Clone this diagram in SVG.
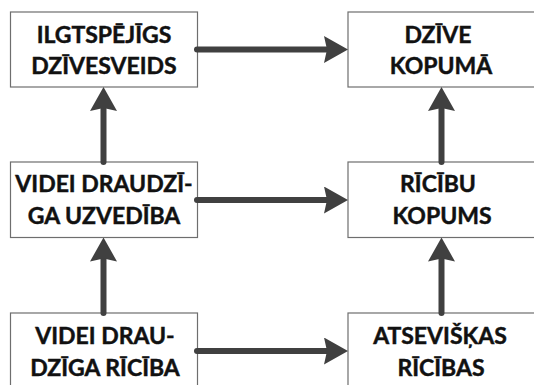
<svg xmlns="http://www.w3.org/2000/svg" width="534" height="385" viewBox="0 0 534 385">
<style>
.box{fill:#fff;stroke:#6e6e6e;stroke-width:1.2}
.t{font-family:Lato,"Noto Sans",sans-serif;font-weight:700;font-size:23px;fill:#111;stroke:#111;stroke-width:0.45;text-anchor:middle}
.c{stroke:#404040;stroke-width:6;stroke-linecap:round;fill:none}
</style>
<defs>
<marker id="ah" markerUnits="userSpaceOnUse" viewBox="0 0 24 27" refX="4" refY="13.5" markerWidth="24" markerHeight="27" orient="auto">
<path d="M0,0 L24,13.5 L0,27 L3,13.5 Z" fill="#404040"/>
</marker>
</defs>
<rect width="534" height="385" fill="#fff"/>
<g id="n1"><rect class="box" x="10.5" y="12" width="187" height="75"/><text class="t" x="104" y="43">ILGTSPĒJĪGS</text><text class="t" x="104" y="74">DZĪVESVEIDS</text></g>
<g id="n2"><rect class="box" x="348" y="12" width="190" height="75"/><text class="t" x="438" y="43">DZĪVE</text><text class="t" x="441" y="74">KOPUMĀ</text></g>
<g id="n3"><rect class="box" x="10.5" y="162" width="187" height="75.5"/><text class="t" x="104" y="192">VIDEI DRAUDZĪ-</text><text class="t" x="104" y="224">GA UZVEDĪBA</text></g>
<g id="n4"><rect class="box" x="348" y="162" width="190" height="75.5"/><text class="t" x="438" y="192">RĪCĪBU</text><text class="t" x="442" y="224">KOPUMS</text></g>
<g id="n5"><rect class="box" x="10.5" y="313" width="187" height="80"/><text class="t" x="105" y="344">VIDEI DRAU-</text><text class="t" x="105" y="376">DZĪGA RĪCĪBA</text></g>
<g id="n6"><rect class="box" x="348" y="313" width="190" height="80"/><text class="t" x="440" y="344">ATSEVIŠĶAS</text><text class="t" x="441" y="376">RĪCĪBAS</text></g>
<g id="connectors">
<line class="c" x1="197" y1="49.5" x2="328" y2="49.5" marker-end="url(#ah)"/>
<line class="c" x1="197" y1="200" x2="328" y2="200" marker-end="url(#ah)"/>
<line class="c" x1="197" y1="351" x2="328" y2="351" marker-end="url(#ah)"/>
<line class="c" x1="103.5" y1="162" x2="103.5" y2="107" marker-end="url(#ah)"/>
<line class="c" x1="103.5" y1="313" x2="103.5" y2="257.5" marker-end="url(#ah)"/>
<line class="c" x1="441.5" y1="162" x2="441.5" y2="107" marker-end="url(#ah)"/>
<line class="c" x1="441.5" y1="313" x2="441.5" y2="257.5" marker-end="url(#ah)"/>
</g>
</svg>
